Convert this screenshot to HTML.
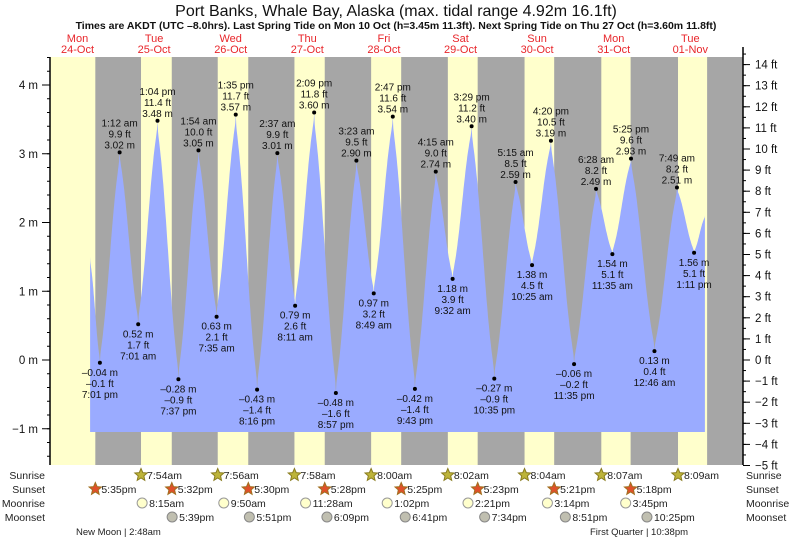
<!DOCTYPE html>
<html><head><meta charset="utf-8"><style>
body{margin:0;background:#fff;}
svg{display:block;font-family:"Liberation Sans",sans-serif;}
</style></head><body>
<svg id="c" width="793" height="539"></svg>
<script>
const tideTimes=["10-24 15:56","10-24 19:01","10-25 01:12","10-25 07:01","10-25 13:04","10-25 19:37","10-26 01:54","10-26 07:35","10-26 13:35","10-26 20:16","10-27 02:37","10-27 08:11","10-27 14:09","10-27 20:57","10-28 03:23","10-28 08:49","10-28 14:47","10-28 21:43","10-29 04:15","10-29 09:32","10-29 15:29","10-29 22:35","10-30 05:15","10-30 10:25","10-30 16:20","10-30 23:35","10-31 06:28","10-31 11:35","10-31 17:25","11-01 00:46","11-01 07:49","11-01 13:11","11-01 16:35"];
const tideHeights=[1.5,-0.04,3.02,0.52,3.48,-0.28,3.05,0.63,3.57,-0.43,3.01,0.79,3.60,-0.48,2.90,0.97,3.54,-0.42,2.74,1.18,3.40,-0.27,2.59,1.38,3.19,-0.06,2.49,1.54,2.93,0.13,2.51,1.56,2.1];
const tideFeet=["","-0.1","9.9","1.7","11.4","-0.9","10.0","2.1","11.7","-1.4","9.9","2.6","11.8","-1.6","9.5","3.2","11.6","-1.4","9.0","3.9","11.2","-0.9","8.5","4.5","10.5","-0.2","8.2","5.1","9.6","0.4","8.2","5.1",""];
const tideLabels=["","7:01 pm","1:12 am","7:01 am","1:04 pm","7:37 pm","1:54 am","7:35 am","1:35 pm","8:16 pm","2:37 am","8:11 am","2:09 pm","8:57 pm","3:23 am","8:49 am","2:47 pm","9:43 pm","4:15 am","9:32 am","3:29 pm","10:35 pm","5:15 am","10:25 am","4:20 pm","11:35 pm","6:28 am","11:35 am","5:25 pm","12:46 am","7:49 am","1:11 pm",""];
const sunriseTimes=["10-24 07:52","10-25 07:54","10-26 07:56","10-27 07:58","10-28 08:00","10-29 08:02","10-30 08:04","10-31 08:07","11-01 08:09"];
const sunsetTimes=["10-24 17:35","10-25 17:32","10-26 17:30","10-27 17:28","10-28 17:25","10-29 17:23","10-30 17:21","10-31 17:18","11-01 17:16"];
const sunriseLabels=["","7:54am","7:56am","7:58am","8:00am","8:02am","8:04am","8:07am","8:09am"];
const sunsetLabels=["5:35pm","5:32pm","5:30pm","5:28pm","5:25pm","5:23pm","5:21pm","5:18pm",""];
const moonriseTimes=["10-25 08:15","10-26 09:50","10-27 11:28","10-28 13:02","10-29 14:21","10-30 15:14","10-31 15:45"];
const moonriseLabels=["8:15am","9:50am","11:28am","1:02pm","2:21pm","3:14pm","3:45pm"];
const moonsetTimes=["10-25 17:39","10-26 17:51","10-27 18:09","10-28 18:41","10-29 19:34","10-30 20:51","10-31 22:25"];
const moonsetLabels=["5:39pm","5:51pm","6:09pm","6:41pm","7:34pm","8:51pm","10:25pm"];
const dayNames=["Mon","Tue","Wed","Thu","Fri","Sat","Sun","Mon","Tue"];
const dayDates=["24-Oct","25-Oct","26-Oct","27-Oct","28-Oct","29-Oct","30-Oct","31-Oct","01-Nov"];
const mTicks=[-1,0,1,2,3,4];
const ftTicks=[-5,-4,-3,-2,-1,0,1,2,3,4,5,6,7,8,9,10,11,12,13,14];

const NS="http://www.w3.org/2000/svg";
const svg=document.getElementById('c');
const L=50,R=743,T=57,B=465;
function hrs(s){const [d,t]=s.split(' ');const [mo,da]=d.split('-').map(Number);const [h,mi]=t.split(':').map(Number);const day=(mo===10?da-24:da+7);return day*24+h+mi/60;}
function X(s){return 39.2+hrs(s)*76.6/24;}
function Ym(m){return 360-68.75*m;}
function Yft(f){return 360-21.1*f;}
function el(tag,attrs,parent){const e=document.createElementNS(NS,tag);for(const k in attrs)e.setAttribute(k,attrs[k]);(parent||svg).appendChild(e);return e;}
function txt(x,y,s,attrs){const e=el('text',Object.assign({x:x,y:y},attrs||{}));e.textContent=s;return e;}

let t=txt(396,16,"Port Banks, Whale Bay, Alaska (max. tidal range 4.92m 16.1ft)",{'text-anchor':'middle','font-size':'16','fill':'#111'});

t=txt(396,29,"Times are AKDT (UTC \u20138.0hrs). Last Spring Tide on Mon 10 Oct (h=3.45m 11.3ft). Next Spring Tide on Thu 27 Oct (h=3.60m 11.8ft)",{'text-anchor':'middle','font-size':'10.5','font-weight':'bold','fill':'#111'});


let bg=el('rect',{x:L,y:T,width:R-L,height:B-T,fill:'#ffffcc'});

for(let i=0;i<sunsetTimes.length;i++){
  const x1=X(sunsetTimes[i]);const x2=i+1<sunriseTimes.length?X(sunriseTimes[i+1]):R;
  const r=el('rect',{x:x1,y:T,width:Math.min(x2,R)-x1,height:B-T,fill:'#a6a6a6'});
  
}
for(let i=0;i<dayNames.length;i++){
  const x=X(dayDates[i]==="01-Nov"?"11-01 12:00":"10-"+dayDates[i].slice(0,2)+" 12:00");
  let a=txt(x,42,dayNames[i],{'text-anchor':'middle','font-size':'11','fill':'#e8262b'});
  
  a=txt(x,53,dayDates[i],{'text-anchor':'middle','font-size':'11','fill':'#e8262b'});
  
}
let pts=[];const base=432;
for(let i=0;i<tideTimes.length-1;i++){
  const x1=X(tideTimes[i]),x2=X(tideTimes[i+1]),h1=tideHeights[i],h2=tideHeights[i+1];
  const n=40;
  for(let k=0;k<=n;k++){const f=k/n;const c=0.5-Math.asin(1-2*f)/Math.PI;const cc=0.4*c+0.6*(1-Math.cos(Math.PI*f))/2;pts.push([x1+(x2-x1)*f,Ym(h1+(h2-h1)*cc)]);}
}
let d="M"+pts[0][0].toFixed(1)+","+base+" "+pts.map(p=>"L"+p[0].toFixed(1)+","+p[1].toFixed(1)).join(" ")+" L"+pts[pts.length-1][0].toFixed(1)+","+base+"Z";
let area=el('path',{d:d,fill:'#9aabff'});

for(let i=1;i<tideTimes.length-1;i++){
  const x=X(tideTimes[i]),y=Ym(tideHeights[i]);
  const high=tideHeights[i]>tideHeights[i-1];
  const dot=el('circle',{cx:x,cy:y,r:2,fill:'#000'});
  
  const m=tideHeights[i].toFixed(2).replace('-','\u2013')+" m",f=tideFeet[i].replace('-','\u2013')+" ft",tm=tideLabels[i];
  const lines=high?[tm,f,m]:[m,f,tm];
  const y0=high?y-26:y+13;
  lines.forEach((s,j)=>{const a=txt(x,y0+j*11,s,{'text-anchor':'middle','font-size':'10','fill':'#111'});
    });
}
let ax=el('line',{x1:L,y1:T,x2:L,y2:B,stroke:'#000','stroke-width':1.5});

ax=el('line',{x1:R,y1:T-10,x2:R,y2:B,stroke:'#000','stroke-width':1.5});

for(let v=-1.4;v<=4.7;v+=0.2){const y=Ym(v);if(y<T||y>B)continue;el('line',{x1:L-3,y1:y,x2:L,y2:y,stroke:'#000'});}
mTicks.forEach(v=>{const y=Ym(v);el('line',{x1:L-8,y1:y,x2:L,y2:y,stroke:'#000'});
  const a=txt(L-12,y+4,(v<0?'\u2212':'')+Math.abs(v)+" m",{'text-anchor':'end','font-size':'11.5','fill':'#111'});
  });
for(let v=-5;v<=14.5;v+=0.5){const y=Yft(v);el('line',{x1:R,y1:y,x2:R+3,y2:y,stroke:'#000'});}
ftTicks.forEach(v=>{const y=Yft(v);el('line',{x1:R,y1:y,x2:R+7,y2:y,stroke:'#000'});
  const a=txt(R+12,y+4,(v<0?'\u2212':'')+Math.abs(v)+" ft",{'font-size':'11.5','fill':'#111'});
  });
const rowNames=["Sunrise","Sunset","Moonrise","Moonset"],rowY=[479,493,507,521];
rowNames.forEach((n,i)=>{let a=txt(45,rowY[i],n,{'text-anchor':'end','font-size':'10.5','fill':'#222'});
  
  a=txt(746,rowY[i],n,{'font-size':'10.5','fill':'#222'});
  });
function star(cx,cy,fill,stroke){let p=[];for(let k=0;k<10;k++){const r=k%2?3:6.5;const a=-Math.PI/2+k*Math.PI/5;p.push((cx+r*Math.cos(a)).toFixed(1)+","+(cy+r*Math.sin(a)).toFixed(1));}
  return el('polygon',{points:p.join(" "),fill:fill,stroke:stroke,'stroke-width':1});}
sunriseTimes.forEach((s,i)=>{if(!sunriseLabels[i])return;const x=X(s);const st=star(x,rowY[0]-4,'#bdb43a','#8a7d20');
  
  const a=txt(x+6,rowY[0],sunriseLabels[i],{'font-size':'10.5','fill':'#222'});});
sunsetTimes.forEach((s,i)=>{if(!sunsetLabels[i])return;const x=X(s);const st=star(x,rowY[1]-4,'#e0502a','#a07020');
  
  const a=txt(x+6,rowY[1],sunsetLabels[i],{'font-size':'10.5','fill':'#222'});});
moonriseTimes.forEach((s,i)=>{const x=X(s);const c=el('circle',{cx:x,cy:rowY[2]-4,r:5,fill:'#ffffcc',stroke:'#999'});
  
  const a=txt(x+7,rowY[2],moonriseLabels[i],{'font-size':'10.5','fill':'#222'});});
moonsetTimes.forEach((s,i)=>{const x=X(s);const c=el('circle',{cx:x,cy:rowY[3]-4,r:5,fill:'#c0bfb0',stroke:'#888'});
  
  const a=txt(x+7,rowY[3],moonsetLabels[i],{'font-size':'10.5','fill':'#222'});});
t=txt(76,535,"New Moon | 2:48am",{'font-size':'9.5','fill':'#222'});
t=txt(590,535,"First Quarter | 10:38pm",{'font-size':'9.5','fill':'#222'});
</script>
</body></html>
